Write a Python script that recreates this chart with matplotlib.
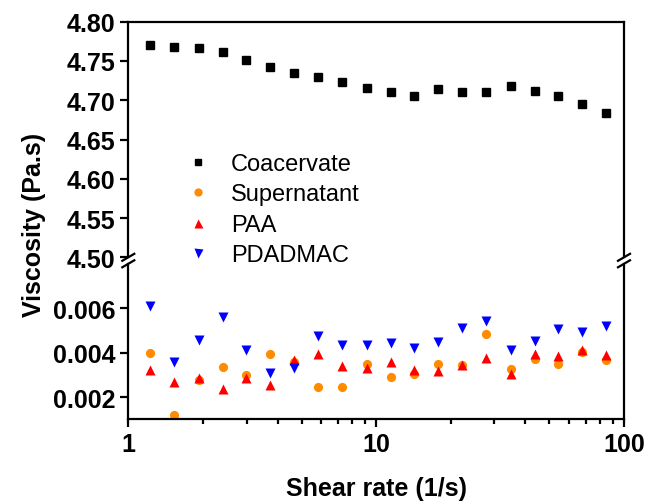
import matplotlib
matplotlib.use("Agg")
import matplotlib.pyplot as plt
from matplotlib.lines import Line2D
from matplotlib.ticker import FixedLocator, FormatStrFormatter, LogLocator, NullFormatter

plt.rcParams['font.family'] = ['Liberation Sans', 'DejaVu Sans']

shear_rate = [1.224, 1.529, 1.929, 2.411, 2.993, 3.741, 4.649, 5.827, 7.281, 9.160,
              11.45, 14.21, 17.71, 22.14, 27.67, 34.91, 43.62, 54.17, 67.68, 84.36]

coacervate = [4.7705, 4.7676, 4.7667, 4.7608, 4.7518, 4.7423, 4.7353, 4.7295, 4.7231, 4.7150,
              4.7108, 4.7060, 4.7141, 4.7108, 4.7108, 4.7185, 4.7120, 4.7051, 4.6954, 4.6838]
supernatant = [0.00400, 0.00119, 0.00275, 0.00336, 0.00300, 0.00396, 0.00357, 0.00245, 0.00245, 0.00347,
               0.00290, 0.00305, 0.00348, 0.00345, 0.00485, 0.00327, 0.00372, 0.00347, 0.00405, 0.00369]
paa = [0.00320, 0.00270, 0.00288, 0.00237, 0.00285, 0.00255, 0.00366, 0.00393, 0.00342, 0.00330,
       0.00357, 0.00324, 0.00317, 0.00345, 0.00377, 0.00305, 0.00396, 0.00384, 0.00413, 0.00391]
pdadmac = [0.00612, 0.00357, 0.00458, 0.00560, 0.00410, 0.00308, 0.00330, 0.00474, 0.00435, 0.00436,
           0.00444, 0.00420, 0.00450, 0.00513, 0.00544, 0.00413, 0.00452, 0.00506, 0.00492, 0.00520]

top_ticks = [4.50, 4.55, 4.60, 4.65, 4.70, 4.75, 4.80]
bottom_ticks = [0.002, 0.004, 0.006]
x_ticks = [1, 10, 100]
x_tick_labels = ["1", "10", "100"]

W, H = 646, 502
fig = plt.figure(figsize=(W / 100, H / 100), dpi=100)

def fx(px):
    return px / W

def fy(py):
    return 1 - py / H

left, right = 128.3, 624.0
top_y0, top_y1 = 22.7, 258.3
bot_y0, bot_y1 = 264.8, 420.3

ax_top = fig.add_axes([fx(left), fy(top_y1), fx(right) - fx(left), fy(top_y0) - fy(top_y1)])
ax_bot = fig.add_axes([fx(left), fy(bot_y1), fx(right) - fx(left), fy(bot_y0) - fy(bot_y1)])

lw = 1.6
ms_sq, ms_c, ms_t = 5.2, 6.6, 7.2

ax_top.plot(shear_rate, coacervate, ls='none', marker='s', color='black', ms=ms_sq, label='Coacervate')
ax_bot.plot(shear_rate, supernatant, ls='none', marker='o', color='#ff8c00', mec='none', ms=ms_c, label='Supernatant')
ax_bot.plot(shear_rate, paa, ls='none', marker='^', color='#ff0000', mec='none', ms=ms_t, label='PAA')
ax_bot.plot(shear_rate, pdadmac, ls='none', marker='v', color='#0000ff', mec='none', ms=ms_t, label='PDADMAC')

for ax in (ax_top, ax_bot):
    ax.set_xscale('log')
    ax.set_xlim(1, 100)
    for s in ax.spines.values():
        s.set_linewidth(lw)
    ax.tick_params(axis='both', which='major', direction='out', width=lw, length=6,
                   labelsize=18)
    ax.tick_params(axis='both', which='minor', direction='out', width=lw, length=3.5)

ax_top.set_ylim(4.50, 4.80)
ax_top.yaxis.set_major_locator(FixedLocator(top_ticks))
ax_top.yaxis.set_major_formatter(FormatStrFormatter('%.2f'))
ax_top.spines['bottom'].set_visible(False)
ax_top.tick_params(axis='x', which='both', bottom=False, top=False, labelbottom=False)
ax_top.tick_params(axis='y', which='both', right=False)

ax_bot.set_ylim(0.001, 0.008)
ax_bot.yaxis.set_major_locator(FixedLocator(bottom_ticks))
ax_bot.yaxis.set_major_formatter(FormatStrFormatter('%.3f'))
ax_bot.spines['top'].set_visible(False)
ax_bot.xaxis.set_major_locator(FixedLocator(x_ticks))
ax_bot.set_xticklabels(x_tick_labels)
ax_bot.xaxis.set_minor_locator(LogLocator(base=10, subs=range(2, 10)))
ax_bot.xaxis.set_minor_formatter(NullFormatter())
ax_bot.tick_params(axis='x', which='both', top=False)
ax_bot.tick_params(axis='y', which='both', right=False)

for ax in (ax_top, ax_bot):
    for lab in ax.get_xticklabels() + ax.get_yticklabels():
        lab.set_fontweight('bold')
        lab.set_fontsize(18)

ax_bot.set_xlabel('Shear rate (1/s)', fontsize=18, fontweight='bold', labelpad=14)
fig.text(fx(34), fy(225), 'Viscosity (Pa.s)', rotation=90, fontsize=18, fontweight='bold',
         ha='center', va='center')

# break marks
for xp in (left, right):
    for yp in (top_y1, bot_y0):
        fig.add_artist(Line2D([fx(xp - 6), fx(xp + 6)], [fy(yp + 3.5), fy(yp - 3.5)],
                              transform=fig.transFigure, color='black', lw=lw))

handles = ax_top.get_lines() + ax_bot.get_lines()
labels = [h.get_label() for h in handles]
leg = ax_top.legend(handles, labels, loc='upper left', bbox_to_anchor=(fx(186), fy(154)),
                    bbox_transform=fig.transFigure, frameon=False, fontsize=17,
                    handlelength=1.0, handletextpad=0.9, labelspacing=0.36, markerscale=0.9,
                    borderaxespad=0, borderpad=0)

fig.savefig('out.png', dpi=100, facecolor='white')
